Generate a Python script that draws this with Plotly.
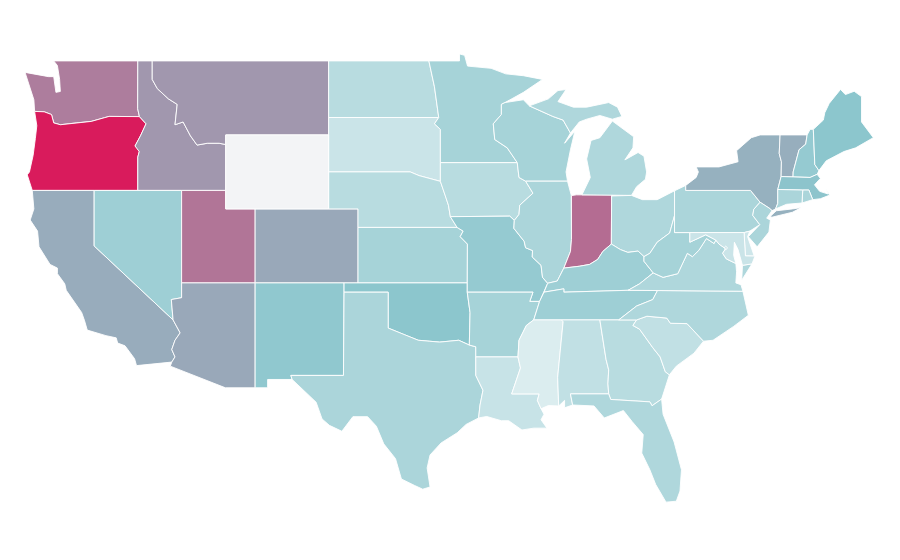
import plotly.graph_objects as go
from plotly.colors import sample_colorscale

states = ["WA","OR","CA","ID","NV","UT","AZ","MT","WY","CO","NM","ND","SD","NE","KS","OK","TX","MN","IA","MO","AR","LA","WI","IL","IN","MI","OH","KY","TN","MS","AL","GA","FL","SC","NC","VA","WV","PA","NY","VT","NH","ME","MA","RI","CT","NJ","DE","MD","DC"]
values = [54,100,32,42,16,58,34,42,None,34,19,10,6,10,14,20,13,14,10,18,14,6.5,14,13,62,12,12,16,16,2,8,10,12,8,12,12,14,13,30,31,18,20,21,13,13,13,5,6,6]
colorscale = [[0.0,"#e4f1f3"],[0.2,"#8cc6cd"],[1.0,"#d91b5c"]]
no_data_color = "#f3f4f6"

# Simplified state borders (lon, lat), written from general geographic knowledge.
borders = {
"WA":[[(-124.7,48.38),(-123.1,48.15),(-122.75,48.15),(-122.6,47.3),(-122.3,47.35),(-122.35,48.0),(-122.5,48.75),(-122.75,49),(-117.03,49),(-117.04,46.42),(-116.92,45.99),(-118.98,46),(-119.3,45.93),(-120.2,45.73),(-121.2,45.65),(-122.3,45.55),(-122.75,45.65),(-122.9,46.1),(-123.4,46.25),(-124.05,46.27),(-124.1,46.9),(-124.4,47.6)]],
"OR":[[(-124.05,46.27),(-123.4,46.25),(-122.9,46.1),(-122.75,45.65),(-122.3,45.55),(-121.2,45.65),(-120.2,45.73),(-119.3,45.93),(-118.98,46),(-116.92,45.99),(-116.47,45.6),(-116.85,44.95),(-117.22,44.4),(-117.05,44.25),(-116.93,44.1),(-117.03,43.8),(-117.03,42),(-124.21,42),(-124.55,42.84),(-124.4,43),(-124.15,43.9),(-124,44.8),(-123.9,45.5)]],
"ID":[[(-117.03,49),(-116.05,49),(-116.05,48),(-115.7,47.5),(-114.95,46.95),(-114.35,46.65),(-114.5,45.55),(-113.95,45.7),(-113.45,44.95),(-113,44.45),(-112.3,44.55),(-111.5,44.55),(-111.05,44.48),(-111.05,42),(-117.03,42),(-117.03,43.8),(-116.93,44.1),(-117.05,44.25),(-117.22,44.4),(-116.85,44.95),(-116.47,45.6),(-116.92,45.99),(-117.04,46.42)]],
"MT":[[(-116.05,49),(-104.05,49),(-104.05,45),(-111.05,45),(-111.05,44.48),(-111.5,44.55),(-112.3,44.55),(-113,44.45),(-113.45,44.95),(-113.95,45.7),(-114.5,45.55),(-114.35,46.65),(-114.95,46.95),(-115.7,47.5),(-116.05,48)]],
"WY":[[(-111.05,45),(-104.05,45),(-104.05,41),(-111.05,41)]],
"CO":[[(-109.05,41),(-102.05,41),(-102.05,37),(-109.05,37)]],
"UT":[[(-114.05,42),(-111.05,42),(-111.05,41),(-109.05,41),(-109.05,37),(-114.05,37)]],
"NV":[[(-120,42),(-114.05,42),(-114.05,36.2),(-114.75,36.1),(-114.63,35),(-120,39)]],
"CA":[[(-124.21,42),(-120,42),(-120,39),(-114.63,35),(-114.15,34.3),(-114.5,33.9),(-114.72,33.4),(-114.5,33),(-114.72,32.72),(-117.12,32.53),(-117.25,32.9),(-117.9,33.6),(-118.4,33.75),(-118.5,34.03),(-119.2,34.15),(-120.47,34.45),(-120.65,34.95),(-120.85,35.4),(-121.9,36.6),(-122,36.95),(-122.5,37.5),(-122.5,37.8),(-123,38),(-123.75,38.95),(-123.85,39.8),(-124.35,40.4),(-124.1,41)]],
"AZ":[[(-114.05,37),(-109.05,37),(-109.05,31.33),(-111.07,31.33),(-114.82,32.5),(-114.72,32.72),(-114.5,33),(-114.72,33.4),(-114.5,33.9),(-114.15,34.3),(-114.63,35),(-114.75,36.1),(-114.05,36.2)]],
"NM":[[(-109.05,37),(-103,37),(-103.04,32),(-106.62,32),(-106.53,31.78),(-108.2,31.78),(-108.2,31.33),(-109.05,31.33)]],
"ND":[[(-104.05,49),(-97.23,49),(-96.85,47.6),(-96.56,45.94),(-104.05,45.94)]],
"SD":[[(-104.05,45.94),(-96.56,45.94),(-96.85,45.6),(-96.45,45.3),(-96.45,43.5),(-96.45,42.49),(-97.9,42.8),(-98.5,43),(-104.05,43)]],
"NE":[[(-104.05,43),(-98.5,43),(-97.9,42.8),(-96.45,42.49),(-96.1,41.7),(-95.9,41.2),(-95.77,40.58),(-95.31,40),(-102.05,40),(-102.05,41),(-104.05,41)]],
"KS":[[(-102.05,40),(-95.31,40),(-94.9,39.8),(-95.1,39.5),(-94.61,39.1),(-94.62,37),(-102.05,37)]],
"OK":[[(-103,37),(-94.62,37),(-94.62,36.5),(-94.43,35.4),(-94.48,33.64),(-95.2,33.9),(-96.5,33.8),(-97.2,33.85),(-97.95,33.9),(-98.9,34.2),(-100,34.56),(-100,36.5),(-103,36.5)]],
"TX":[[(-106.62,32),(-103.04,32),(-103,36.5),(-100,36.5),(-100,34.56),(-98.9,34.2),(-97.95,33.9),(-97.2,33.85),(-96.5,33.8),(-95.2,33.9),(-94.48,33.64),(-94.04,33.55),(-94.04,32),(-93.55,31.2),(-93.75,30.4),(-93.85,29.7),(-94.7,29.35),(-95.3,28.9),(-96.4,28.35),(-97.15,27.7),(-97.35,27),(-97.15,25.97),(-97.65,25.85),(-98.2,26.05),(-99.1,26.4),(-99.5,27.5),(-100.3,28.3),(-100.8,29.25),(-101.4,29.77),(-102.4,29.77),(-102.85,29.3),(-103.15,28.98),(-104,29.3),(-104.5,29.65),(-104.9,30.55),(-106,31.4),(-106.53,31.78)]],
"MN":[[(-97.23,49),(-95.15,49),(-95.15,49.38),(-94.8,49.3),(-94.6,48.72),(-93,48.6),(-92,48.3),(-90.8,48.2),(-89.5,48),(-90.8,47.3),(-92.05,46.75),(-92.3,46.65),(-92.3,46.1),(-92.85,45.6),(-92.75,44.75),(-91.9,44.3),(-91.22,43.5),(-96.45,43.5),(-96.45,45.3),(-96.85,45.6),(-96.56,45.94),(-96.85,47.6)]],
"IA":[[(-96.45,43.5),(-91.22,43.5),(-91.1,42.7),(-90.65,42.5),(-90.15,41.85),(-91.05,41.2),(-91.1,40.7),(-91.42,40.38),(-91.73,40.61),(-95.77,40.58),(-95.9,41.2),(-96.1,41.7),(-96.45,42.49)]],
"MO":[[(-95.77,40.58),(-91.73,40.61),(-91.42,40.38),(-91.45,39.95),(-90.75,39.25),(-90.65,38.9),(-90.18,38.75),(-90.2,38.4),(-89.6,37.95),(-89.5,37.3),(-89.15,36.98),(-89.4,36.5),(-89.7,36),(-90.37,36),(-90.15,36.5),(-94.62,36.5),(-94.62,37),(-94.61,39.1),(-95.1,39.5),(-94.9,39.8),(-95.31,40)]],
"AR":[[(-94.62,36.5),(-90.15,36.5),(-90.37,36),(-89.7,36),(-90.1,35),(-90.6,34.7),(-91.1,33.9),(-91.17,33),(-94.04,33),(-94.04,33.55),(-94.48,33.64),(-94.43,35.4)]],
"LA":[[(-94.04,33),(-91.17,33),(-91,32.4),(-91.6,31),(-89.73,31),(-89.85,30.65),(-89.6,30.2),(-89.4,29.9),(-89.6,29.6),(-89.2,29.15),(-90.1,29.15),(-90.9,29.05),(-91.8,29.55),(-92.3,29.55),(-93.3,29.78),(-93.85,29.7),(-93.75,30.4),(-93.55,31.2),(-94.04,32)]],
"MS":[[(-90.1,35),(-88.2,35),(-88.1,34.9),(-88.47,31.9),(-88.4,30.35),(-89.1,30.37),(-89.6,30.2),(-89.85,30.65),(-89.73,31),(-91.6,31),(-91,32.4),(-91.17,33),(-91.1,33.9),(-90.6,34.7)]],
"AL":[[(-88.2,35),(-85.6,35),(-85.18,32.87),(-85,32.3),(-85.05,31.55),(-85,31),(-87.6,31),(-87.45,30.4),(-88,30.25),(-88,30.65),(-88.4,30.35),(-88.47,31.9),(-88.1,34.9)]],
"TN":[[(-90.1,35),(-85.6,35),(-84.32,35),(-83.1,35.75),(-82,36.1),(-81.68,36.59),(-83.68,36.6),(-88.05,36.5),(-88.05,36.68),(-89.4,36.5),(-89.7,36)]],
"KY":[[(-89.4,36.5),(-88.05,36.68),(-88.05,36.5),(-83.68,36.6),(-82.9,36.95),(-81.97,37.54),(-82.6,38.17),(-82.6,38.42),(-83,38.72),(-83.7,38.65),(-84.2,38.8),(-84.82,39.1),(-85.4,38.7),(-85.75,38.27),(-86.3,38),(-87,37.9),(-88.05,37.8),(-88.5,37.1),(-89.15,36.98)]],
"IL":[[(-90.65,42.5),(-87.8,42.5),(-87.55,41.75),(-87.53,39.35),(-87.6,38.7),(-88.05,37.8),(-88.5,37.1),(-89.15,36.98),(-89.5,37.3),(-89.6,37.95),(-90.2,38.4),(-90.18,38.75),(-90.65,38.9),(-90.75,39.25),(-91.45,39.95),(-91.42,40.38),(-91.1,40.7),(-91.05,41.2),(-90.15,41.85)]],
"IN":[[(-87.53,41.72),(-87.2,41.76),(-86.82,41.76),(-84.8,41.76),(-84.82,39.1),(-85.4,38.7),(-85.75,38.27),(-86.3,38),(-87,37.9),(-88.05,37.8),(-87.6,38.7),(-87.53,39.35)]],
"OH":[[(-84.8,41.7),(-83.45,41.73),(-82.7,41.5),(-81.7,41.5),(-80.52,41.98),(-80.52,40.64),(-80.85,39.7),(-81.7,39.2),(-82.2,38.6),(-82.6,38.42),(-83,38.72),(-83.7,38.65),(-84.2,38.8),(-84.82,39.1)]],
"MI":[[(-86.82,41.76),(-84.8,41.76),(-83.45,41.73),(-83.1,42.2),(-82.5,42.6),(-82.42,43),(-82.6,43.85),(-83,44.05),(-83.9,43.65),(-83.35,44.3),(-83.3,44.9),(-84.75,45.75),(-85.1,45.4),(-85.6,44.85),(-86.2,44.7),(-86.5,43.7),(-86.25,42.7)],
      [(-90.4,46.57),(-89.1,46.95),(-88.45,47.4),(-87.9,47.45),(-88.45,46.8),(-87.4,46.5),(-86.5,46.5),(-85,46.75),(-84.4,46.5),(-84.1,46),(-84.75,45.85),(-85.6,46.05),(-86.5,45.85),(-87,45.7),(-87.6,45.1),(-88.1,45.8),(-88.8,46)]],
"WI":[[(-92.05,46.75),(-90.8,46.9),(-90.4,46.57),(-88.8,46),(-88.1,45.8),(-87.6,45.1),(-88,44.55),(-87.3,45.2),(-87.6,44.2),(-87.9,43),(-87.8,42.5),(-90.65,42.5),(-91.1,42.7),(-91.22,43.5),(-91.9,44.3),(-92.75,44.75),(-92.85,45.6),(-92.3,46.1),(-92.3,46.65)]],
"PA":[[(-80.52,41.98),(-79.76,42.27),(-79.76,42),(-75.35,42),(-74.7,41.36),(-75.13,40.98),(-75.2,40.65),(-74.72,40.15),(-75.4,39.8),(-75.79,39.72),(-80.52,39.72)]],
"NY":[[(-79.76,42.27),(-79.05,42.7),(-78.9,43),(-79.05,43.27),(-77.5,43.27),(-76.2,43.55),(-76.3,44.15),(-75.3,44.85),(-74.7,45),(-73.34,45),(-73.4,44),(-73.25,43.55),(-73.27,42.75),(-73.5,42.05),(-73.5,41.3),(-73.65,41),(-73.9,40.9),(-74,41),(-74.7,41.36),(-75.35,42),(-79.76,42)],
      [(-74,40.6),(-73.6,40.9),(-72.5,41),(-71.9,41.07),(-72.5,40.82),(-73.9,40.55)]],
"VT":[[(-73.34,45),(-71.5,45),(-71.6,44.5),(-72.05,44.2),(-72.45,43),(-72.46,42.73),(-73.27,42.75),(-73.25,43.55),(-73.4,44)]],
"NH":[[(-71.5,45),(-71.3,45.3),(-71.08,45.3),(-70.98,43.4),(-70.7,43.07),(-70.82,42.87),(-71.3,42.7),(-72.46,42.73),(-72.45,43),(-72.05,44.2),(-71.6,44.5)]],
"ME":[[(-71.08,45.3),(-70.4,45.8),(-70.3,46.2),(-70,46.7),(-69.23,47.46),(-68.9,47.18),(-68.3,47.36),(-67.8,47.07),(-67.8,45.7),(-67.45,45.3),(-67,44.85),(-68.2,44.3),(-69,44.1),(-70.2,43.6),(-70.7,43.07),(-70.98,43.4)]],
"MA":[[(-73.5,42.05),(-73.27,42.75),(-72.46,42.73),(-71.3,42.7),(-70.82,42.87),(-70.6,42.65),(-71,42.3),(-70.65,41.95),(-70.05,41.8),(-70.25,42.07),(-69.95,41.75),(-70.6,41.55),(-71.12,41.5),(-71.38,42.02),(-71.8,42.02)]],
"RI":[[(-71.8,42.02),(-71.38,42.02),(-71.12,41.5),(-71.85,41.32)]],
"CT":[[(-73.5,42.05),(-71.8,42.02),(-71.85,41.32),(-72.9,41.25),(-73.65,41),(-73.5,41.3)]],
"NJ":[[(-74.7,41.36),(-74,41),(-73.9,40.9),(-74.25,40.5),(-74,40.4),(-74.1,39.75),(-74.9,38.95),(-75.5,39.5),(-74.72,40.15),(-75.2,40.65),(-75.13,40.98)]],
"DE":[[(-75.79,39.72),(-75.4,39.8),(-75.55,39.5),(-75.1,38.45),(-75.7,38.46)]],
"MD":[[(-79.48,39.72),(-75.79,39.72),(-75.7,38.46),(-75.05,38.45),(-75.25,38.03),(-75.9,37.95),(-76.2,38.8),(-76.45,39.2),(-76.5,38.5),(-76.35,38.05),(-77,38.3),(-77.25,38.6),(-77.05,38.85),(-77.5,39.1),(-77.72,39.32),(-78.4,39.6),(-79.48,39.2)]],
"DC":[[(-77.12,38.93),(-77.04,38.99),(-76.91,38.89),(-77.04,38.79)]],
"VA":[[(-83.68,36.6),(-81.68,36.59),(-75.87,36.55),(-76,36.9),(-76.35,37),(-76.3,37.6),(-76.35,38.05),(-77,38.3),(-77.25,38.6),(-77.05,38.85),(-77.5,39.1),(-77.72,39.32),(-77.83,39.13),(-78.35,39.4),(-78.87,38.76),(-79.3,38.42),(-79.65,38.6),(-80.3,37.5),(-81.3,37.3),(-81.97,37.54),(-82.9,36.95)],
      [(-75.95,37.15),(-75.25,38.03),(-75.9,37.95)]],
"WV":[[(-80.52,40.64),(-80.52,39.72),(-79.48,39.72),(-79.48,39.2),(-78.4,39.6),(-77.72,39.32),(-77.83,39.13),(-78.35,39.4),(-78.87,38.76),(-79.3,38.42),(-79.65,38.6),(-80.3,37.5),(-81.3,37.3),(-81.97,37.54),(-82.6,38.17),(-82.6,38.42),(-82.2,38.6),(-81.7,39.2),(-80.85,39.7)]],
"NC":[[(-84.32,35),(-83.1,35.75),(-82,36.1),(-81.68,36.59),(-75.87,36.55),(-75.5,35.25),(-76.5,34.65),(-77.9,33.9),(-78.55,33.85),(-79.67,34.8),(-80.8,34.82),(-81.05,35.1),(-82.4,35.2),(-83.1,35)]],
"SC":[[(-83.1,35),(-82.4,35.2),(-81.05,35.1),(-80.8,34.82),(-79.67,34.8),(-78.55,33.85),(-79.2,33.2),(-80.4,32.5),(-80.87,32.03),(-81.15,32.2),(-81.5,33),(-82,33.5),(-82.9,34.5),(-83.35,34.7)]],
"GA":[[(-85.6,35),(-84.32,35),(-83.1,35),(-83.35,34.7),(-82.9,34.5),(-82,33.5),(-81.5,33),(-81.15,32.2),(-80.87,32.03),(-81.4,30.72),(-82.05,30.36),(-82.2,30.57),(-84.86,30.7),(-85,31),(-85.05,31.55),(-85,32.3),(-85.18,32.87)]],
"FL":[[(-87.6,31),(-85,31),(-84.86,30.7),(-82.2,30.57),(-82.05,30.36),(-81.4,30.72),(-81.3,29.9),(-80.55,28.4),(-80.05,26.9),(-80.15,25.75),(-80.4,25.2),(-81.1,25.15),(-81.8,26.1),(-82.2,26.9),(-82.75,27.8),(-82.65,28.8),(-83.4,29.5),(-84,30.1),(-85.3,29.7),(-86,30.35),(-87.45,30.4)]],
}

fig = go.Figure()
order = sorted(range(len(states)), key=lambda i: states[i] == "WY")
for i in order:
    xs, ys = [], []
    for r in borders[states[i]]:
        closed = r + [r[0]]
        xs += [p[0] for p in closed] + [None]
        ys += [p[1] for p in closed] + [None]
    v = values[i]
    color = no_data_color if v is None else sample_colorscale(colorscale, [v / 100])[0]
    fig.add_trace(go.Scatter(x=xs, y=ys, mode="lines", fill="toself", fillcolor=color,
                             line=dict(color="#ffffff", width=0.9), name=states[i], hoveron="fills"))

fig.update_xaxes(visible=False, range=[-125.86, -64.64])
fig.update_yaxes(visible=False, range=[21.59, 51.86])
fig.update_layout(width=900, height=560, margin=dict(l=0, r=0, t=0, b=0), paper_bgcolor="white",
                  plot_bgcolor="white", showlegend=False)
fig.write_html("out.html")
